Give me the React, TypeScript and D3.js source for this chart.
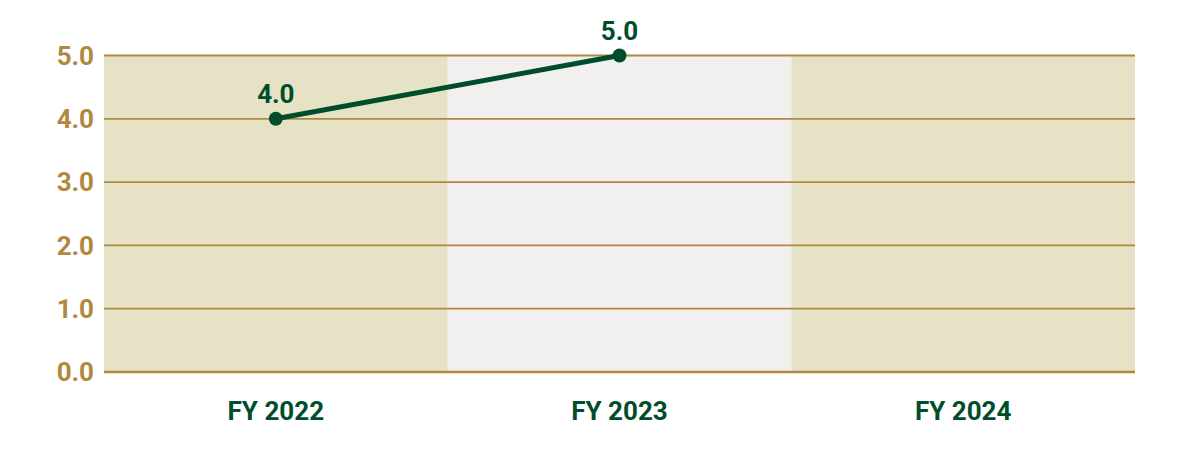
import React from "react";
import * as d3 from "d3";

const categories = ["FY 2022", "FY 2023", "FY 2024"];
const values: (number | null)[] = [4.0, 5.0, null];
const yTicks = [0, 1, 2, 3, 4, 5];
const bandFills = ["#e6e2c5", "#f1f0ee", "#e6e2c5"];

const W = 1201;
const H = 459;
const GOLD = "#b0883f";
const GREEN = "#004d2c";

export default function App() {
  const x = d3.scaleBand<string>().domain(categories).range([104, 1135]).padding(0);
  const y = d3.scaleLinear().domain([0, 5]).range([372, 55.5]);
  const pts = categories
    .map((c, i) => ({ c, v: values[i] }))
    .filter((d) => d.v !== null) as { c: string; v: number }[];
  const line = d3
    .line<{ c: string; v: number }>()
    .x((d) => (x(d.c) as number) + x.bandwidth() / 2)
    .y((d) => y(d.v));
  const font = "Roboto, 'Noto Sans', sans-serif";
  return (
    <svg
      width={W}
      height={H}
      style={{ position: "absolute", left: 0, top: 0, display: "block", background: "#fff" }}
    >
      {categories.map((c, i) => (
        <rect
          key={c}
          x={x(c)}
          y={y(5)}
          width={x.bandwidth()}
          height={y(0) - y(5)}
          fill={bandFills[i]}
        />
      ))}
      {yTicks.map((t) => (
        <line
          key={t}
          x1={104}
          x2={1135}
          y1={y(t)}
          y2={y(t)}
          stroke={GOLD}
          strokeWidth={t === 0 ? 2.5 : 1.8}
        />
      ))}
      {yTicks.map((t) => (
        <text
          key={"l" + t}
          x={94}
          y={y(t)}
          dy="0.35em"
          textAnchor="end"
          fontFamily={font}
          fontWeight={700}
          fontSize={26}
          fill={GOLD}
        >
          {t.toFixed(1)}
        </text>
      ))}
      {categories.map((c) => (
        <text
          key={"x" + c}
          x={(x(c) as number) + x.bandwidth() / 2}
          y={420}
          textAnchor="middle"
          fontFamily={font}
          fontWeight={700}
          fontSize={26}
          fill={GREEN}
        >
          {c}
        </text>
      ))}
      <path d={line(pts) || ""} fill="none" stroke={GREEN} strokeWidth={5} />
      {pts.map((d) => (
        <g key={"p" + d.c}>
          <circle
            cx={(x(d.c) as number) + x.bandwidth() / 2}
            cy={y(d.v)}
            r={7}
            fill={GREEN}
          />
          <text
            x={(x(d.c) as number) + x.bandwidth() / 2}
            y={y(d.v) - 16}
            textAnchor="middle"
            fontFamily={font}
            fontWeight={700}
            fontSize={26}
            fill={GREEN}
          >
            {d.v.toFixed(1)}
          </text>
        </g>
      ))}
    </svg>
  );
}
